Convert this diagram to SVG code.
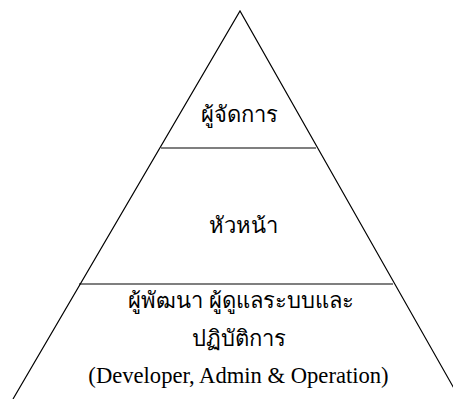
<svg xmlns="http://www.w3.org/2000/svg" width="453" height="399" viewBox="0 0 453 399">
<style>
.ln{stroke:#000;stroke-width:1.2;fill:none}
.th{font-family:"Liberation Serif","Noto Sans",serif;font-size:22px;fill:#000;text-anchor:middle}
.en{font-family:"Liberation Serif",serif;font-size:22.6px;fill:#000;text-anchor:middle}
</style>
<rect width="453" height="399" fill="#fff"/>
<g id="connectors">
<path class="ln" d="M13,399 L240,11 L460,399"/>
<line class="ln" x1="161" y1="148" x2="316" y2="148"/>
<line class="ln" x1="79" y1="284" x2="393" y2="284"/>
</g>
<g id="manager"><text class="th" x="239" y="122">ผู้จัดการ</text></g>
<g id="lead"><text class="th" x="243" y="233">หัวหน้า</text></g>
<g id="staff">
<text class="th" x="241" y="308">ผู้พัฒนา ผู้ดูแลระบบและ</text>
<text class="th" x="239" y="346">ปฏิบัติการ</text>
<text class="en" x="238.5" y="383">(Developer, Admin &amp; Operation)</text>
</g>
</svg>
